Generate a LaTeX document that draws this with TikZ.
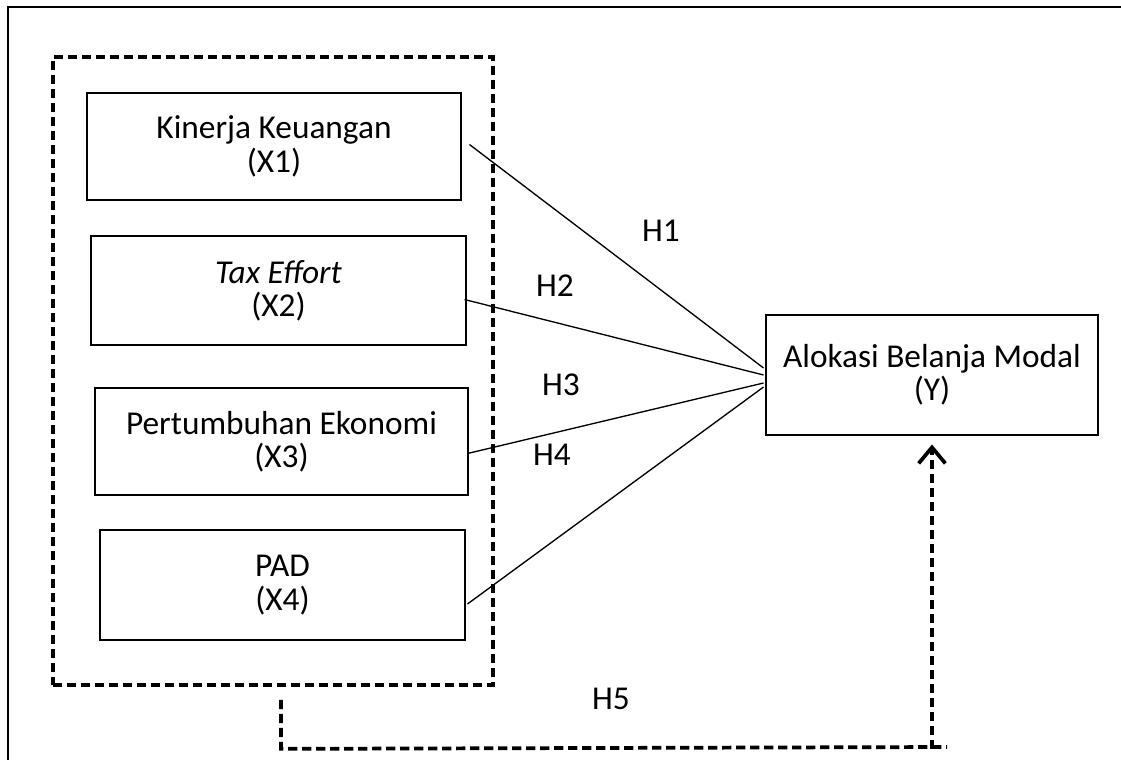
\documentclass[tikz,border=0pt]{standalone}
\usepackage{fontspec}
\setmainfont{Carlito}
\usetikzlibrary{arrows.meta,calc}
\begin{document}
\begin{tikzpicture}[x=0.75pt,y=-0.75pt,
  font=\fontsize{25}{25}\selectfont,
  box/.style={draw,line width=2.2pt,align=center,inner sep=0pt},
  lbl/.style={inner sep=0pt},
  dsh/.style={line width=2.8pt,dash pattern=on 7pt off 3.5pt},
  link/.style={line width=1pt}]
\useasboundingbox (0,0) rectangle (1121,760);
\draw[line width=1.4pt] (8,760) -- (8,7) -- (1121,7);
\node[draw,dsh,minimum width=330pt,minimum height=471pt,inner sep=0pt] (grp) at (273,371) {};
\node[box,minimum width=280.5pt,minimum height=80.25pt] (x1) at (274,146.5) {Kinerja Keuangan\\(X1)};
\node[box,minimum width=281.25pt,minimum height=81.75pt] (x2) at (278.5,290.5) {\textit{Tax Effort}\\(X2)};
\node[box,minimum width=279.75pt,minimum height=80.25pt] (x3) at (281.5,441.5) {Pertumbuhan Ekonomi\\(X3)};
\node[box,minimum width=273.75pt,minimum height=82.5pt] (x4) at (282.5,585) {PAD\\(X4)};
\node[box,minimum width=249pt,minimum height=90pt] (y) at (932,375) {Alokasi Belanja Modal\\(Y)};
\coordinate (s1) at ($(x1.east)+(7,-2)$);
\coordinate (s2) at ($(x2.east)+(-3,9)$);
\coordinate (s3) at ($(x3.east)+(-2,12)$);
\coordinate (s4) at ($(x4.east)+(1,19)$);
\draw[link] (s1) -- ($(y.west)+(-1,-7)$);
\draw[link] (s2) -- ($(y.west)+(-1,0)$);
\draw[link] (s3) -- ($(y.west)+(-1,8)$);
\draw[link] (s4) -- ($(y.west)+(-1,12)$);
\node[lbl] (h1) at (661,231) {H1};
\node[lbl] (h2) at (555,286) {H2};
\node[lbl] (h3) at (561,385) {H3};
\node[lbl] (h4) at (552,455) {H4};
\node[lbl] (h5) at (611,699) {H5};
\coordinate (d0) at ($(grp.south)+(8,13)$);
\coordinate (d1) at ($(d0)+(0,49)$);
\coordinate (d2) at (947,747);
\coordinate (d3) at (y.south |- d1);
\draw[dsh] (d0) -- (d1) -- (d2);
\draw[dsh,-{Straight Barb[length=12pt,width=20pt,line width=2.8pt]}] (d3) -- ($(y.south)+(0,8)$);
\end{tikzpicture}
\end{document}
